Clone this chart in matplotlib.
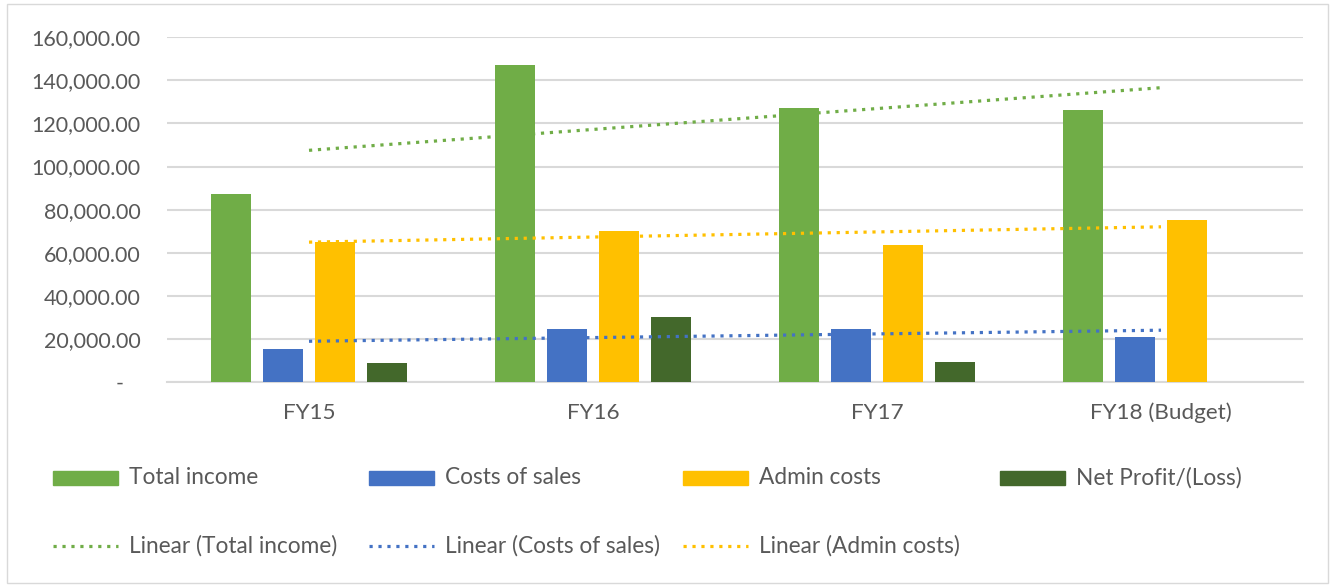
import matplotlib.pyplot as plt
import numpy as np
from matplotlib.patches import Rectangle
from matplotlib.lines import Line2D
from matplotlib.ticker import FuncFormatter, MultipleLocator

categories = ['FY15', 'FY16', 'FY17', 'FY18 (Budget)']
total_income = [87400, 147300, 127200, 126400]
costs_of_sales = [15300, 24800, 24800, 21000]
admin_costs = [64900, 70300, 63700, 75000]
net_profit = [8700, 30300, 9400, np.nan]

series_names = ['Total income', 'Costs of sales', 'Admin costs', 'Net Profit/(Loss)']
series_colors = ['#70AD47', '#4472C4', '#FFC000', '#43682B']
trend_names = ['Linear (Total income)', 'Linear (Costs of sales)', 'Linear (Admin costs)']

plt.rcParams['font.family'] = ['Lato', 'DejaVu Sans']
text_color = '#595959'
grid_color = '#D9D9D9'

W, H = 1335, 587
fig = plt.figure(figsize=(W / 100, H / 100), dpi=100)

# chart border
fig.add_artist(Rectangle((7 / W, 4 / H), (1328 - 7) / W, (583 - 4) / H,
                         transform=fig.transFigure, fill=False,
                         edgecolor=grid_color, linewidth=1))

ax = fig.add_axes([167 / W, 1 - 382 / H, (1303 - 167) / W, (382 - 37.3) / H])

x = np.arange(len(categories))
all_series = [total_income, costs_of_sales, admin_costs, net_profit]
step = 0.183
width = 0.143
for i, (vals, col) in enumerate(zip(all_series, series_colors)):
    ax.bar(x + (i - 1.5) * step, vals, width=width, color=col, zorder=3)

# linear trendlines (least squares, like Excel)
dots = (0, (1, 1.8))
for vals, col in zip(all_series[:3], series_colors[:3]):
    k, b = np.polyfit(x, vals, 1)
    xs = np.array([x[0], x[-1]])
    ax.plot(xs, k * xs + b, color=col, linewidth=2.3, linestyle=dots,
            dash_capstyle='butt', zorder=4)

ax.set_xlim(-0.5, len(categories) - 0.5)
ax.set_ylim(0, 160000)
ax.yaxis.set_major_locator(MultipleLocator(20000))
ax.yaxis.set_major_formatter(FuncFormatter(
    lambda v, p: '-   ' if v == 0 else f'{v:,.2f}'))
ax.set_xticks(x)
ax.set_xticklabels(categories)

ax.grid(axis='y', color=grid_color, linewidth=1.5, zorder=0)
for s in ['top', 'right', 'left']:
    ax.spines[s].set_visible(False)
ax.spines['bottom'].set_color(grid_color)
ax.spines['bottom'].set_linewidth(1.5)
ax.tick_params(length=0, labelcolor=text_color)
ax.tick_params(axis='y', pad=19, labelsize=15.5)
ax.tick_params(axis='x', pad=15, labelsize=16.2)

# legend, laid out in fixed columns like Excel
col_x = [53, 369, 683, 1000]
row_y = [478, 546]
fs = 16.3
for i, (name, col) in enumerate(zip(series_names, series_colors)):
    x0 = col_x[i]
    fig.add_artist(Rectangle((x0 / W, 1 - (row_y[0] + 7) / H), 65 / W, 14 / H,
                             transform=fig.transFigure, color=col))
    fig.text((x0 + 76) / W, 1 - row_y[0] / H, name, fontsize=fs,
             color=text_color, va='center', ha='left')
for i, (name, col) in enumerate(zip(trend_names, series_colors[:3])):
    x0 = col_x[i]
    fig.add_artist(Line2D([x0 / W, (x0 + 65) / W], [1 - row_y[1] / H] * 2,
                          transform=fig.transFigure, color=col, linewidth=2.3,
                          linestyle=dots, dash_capstyle='butt'))
    fig.text((x0 + 76) / W, 1 - row_y[1] / H, name, fontsize=fs,
             color=text_color, va='center', ha='left')

fig.savefig('out.png', dpi=100, facecolor='white')
